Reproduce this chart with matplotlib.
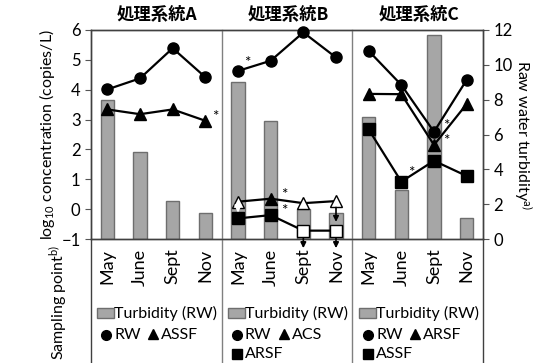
import matplotlib
matplotlib.use("Agg")
import matplotlib.pyplot as plt
from matplotlib.lines import Line2D
from matplotlib.patches import Rectangle

plt.rcParams['font.family'] = ['Lato', 'DejaVu Sans']
plt.rcParams['mathtext.default'] = 'regular'

months = ["May", "June", "Sept", "Nov"]
titles = ["処理系統A", "処理系統B", "処理系統C"]

# raw water turbidity (NTU), right axis
turb_a = [8.0, 5.0, 2.2, 1.5]
turb_b = [9.0, 6.8, 1.7, 1.5]
turb_c = [7.0, 2.8, 11.7, 1.2]

# log10 concentrations
a_rw = [4.01, 4.38, 5.39, 4.42]
a_assf = [3.34, 3.18, 3.34, 2.96]
b_rw = [4.63, 4.97, 5.92, 5.08]
b_acs = [0.25, 0.35, 0.20, 0.27]
b_arsf = [-0.31, -0.20, -0.72, -0.72]
c_rw = [5.30, 4.16, 2.59, 4.33]
c_arsf = [3.86, 3.85, 2.15, 3.52]
c_assf = [2.67, 0.92, 1.62, 1.11]

# detected (filled) or below detection limit (open)
b_acs_det = [False, True, False, False]
b_arsf_det = [True, True, False, False]

W, H = 547, 363
fig = plt.figure(figsize=(W / 100, H / 100), dpi=100)


def fx(x):
    return x / W


def fy(y):
    return 1 - y / H


ax2 = fig.add_axes([fx(91), fy(239), fx(483) - fx(91), fy(30) - fy(239)])
ax = ax2.twinx()
ax.yaxis.tick_left()
ax.yaxis.set_label_position("left")
ax2.yaxis.tick_right()
ax2.yaxis.set_label_position("right")

bar_fc = "#a6a6a6"
bar_ec = "#6e6e6e"
for p, turb in enumerate([turb_a, turb_b, turb_c]):
    xs = [p * 4 + i for i in range(4)]
    ax2.bar(xs, turb, width=0.4, color=bar_fc, edgecolor=bar_ec, linewidth=1.0, zorder=1)

ms = 8
line_kw = dict(color="black", lw=1.6, zorder=3)


def series(p, vals, marker, filled=None):
    xs = [p * 4 + i for i in range(4)]
    ax.plot(xs, vals, **line_kw)
    if filled is None:
        filled = [True] * 4
    for x, v, f in zip(xs, vals, filled):
        ax.plot(x, v, marker=marker, ms=ms, mfc="black" if f else "white",
                mec="black", mew=1.0, zorder=4, clip_on=False)


series(0, a_rw, "o")
series(0, a_assf, "^")
series(1, b_rw, "o")
series(1, b_acs, "^", b_acs_det)
series(1, b_arsf, "s", b_arsf_det)
series(2, c_rw, "o")
series(2, c_arsf, "^")
series(2, c_assf, "s")

# arrows for values below detection limit
ax.annotate("", xy=(4, b_arsf[0] + 0.1), xytext=(4, b_acs[0] - 0.12),
            arrowprops=dict(arrowstyle="-|>", color="white", lw=1.6, mutation_scale=9), zorder=6)
ax.annotate("", xy=(7, b_arsf[3] + 0.2), xytext=(7, b_acs[3] - 0.12),
            arrowprops=dict(arrowstyle="-|>", color="black", lw=1.2, mutation_scale=8), zorder=6)
for x in (6, 7):
    ax.annotate("", xy=(x, -1.4), xytext=(x, b_arsf[x - 4] - 0.15),
                arrowprops=dict(arrowstyle="-|>", color="black", lw=1.2, mutation_scale=8),
                zorder=6, annotation_clip=False)

# significance marks
stars = [(3, a_assf[3], 7, 3), (4, b_rw[0], 7, 6), (5, b_acs[1], 10, 3),
         (5, b_arsf[1], 10, 3), (9, c_assf[1], 7, 6), (10, c_rw[2], 9, 4),
         (10, c_arsf[2], 9, 3)]
for x, v, dx, dy in stars:
    ax.annotate("*", (x, v), xytext=(dx, dy), textcoords="offset points",
                fontsize=11, ha="center", va="center", zorder=6)

ax.set_xlim(-0.5, 11.5)
ax.set_ylim(-1, 6)
ax2.set_ylim(0, 12)
ax.set_yticks(range(-1, 7))
ax2.set_yticks(range(0, 13, 2))
ax.set_zorder(ax2.get_zorder() + 1)
ax.patch.set_visible(False)

ax2.set_xticks(range(12))
ax2.set_xticklabels(months * 3, rotation=90, fontsize=13)
ax2.tick_params(axis="x", length=0, pad=7)
ax.tick_params(axis="x", length=0, labelbottom=False)
ax.tick_params(axis="y", labelsize=12, length=4, color="#555555")
ax2.tick_params(axis="y", labelsize=12, length=4, color="#555555")

for a in (ax, ax2):
    for s in a.spines.values():
        s.set_color("#404040")
        s.set_linewidth(1.0)

# panel separators, running down through the label area
for x in (-0.5, 11.5):
    ax.axvline(x, ymin=-0.6, ymax=0, color="#404040", lw=1.0, clip_on=False)
for x in (3.5, 7.5):
    ax.axvline(x, ymin=-0.6, ymax=1, color="#808080", lw=1.0, clip_on=False)

ax.set_ylabel(r"log$_{10}$ concentration (copies/L)", fontsize=11.5, labelpad=3)
ax2.set_ylabel(r"Raw water turbidity$^{a)}$", fontsize=11.5, rotation=270, labelpad=15)

for p, t in enumerate(titles):
    fig.text(fx(157 + p * 131), fy(15), t, ha="center", va="center", fontsize=12.5,
             fontweight="bold", family=["Noto Sans CJK JP", "DejaVu Sans"])

fig.text(fx(58), fy(302), r"Sampling point$^{b)}$", rotation=90, ha="center",
         va="center", fontsize=11.5)

# legend blocks under each panel
leg_rows = [
    [("o", "RW"), ("^", "ASSF")],
    [("o", "RW"), ("^", "ACS")],
    [("o", "RW"), ("^", "ARSF")],
]
leg_third = [None, ("s", "ARSF"), ("s", "ASSF")]
fs_leg = 11.5
for p in range(3):
    x0 = 97 + p * 131
    fig.add_artist(Rectangle((fx(x0), fy(318)), fx(17), fy(308) - fy(318),
                             transform=fig.transFigure, facecolor=bar_fc,
                             edgecolor=bar_ec, lw=1.0))
    fig.text(fx(x0 + 17), fy(313), "Turbidity (RW)", ha="left", va="center", fontsize=fs_leg)
    (m1, t1), (m2, t2) = leg_rows[p]
    fig.add_artist(Line2D([fx(x0 + 9)], [fy(335)], marker=m1, ms=7, color="black",
                          transform=fig.transFigure))
    fig.text(fx(x0 + 17), fy(335), t1, ha="left", va="center", fontsize=fs_leg)
    fig.add_artist(Line2D([fx(x0 + 56)], [fy(334)], marker=m2, ms=7, color="black",
                          transform=fig.transFigure))
    fig.text(fx(x0 + 64), fy(335), t2, ha="left", va="center", fontsize=fs_leg)
    if leg_third[p]:
        m3, t3 = leg_third[p]
        fig.add_artist(Line2D([fx(x0 + 9)], [fy(354)], marker=m3, ms=7, color="black",
                              transform=fig.transFigure))
        fig.text(fx(x0 + 17), fy(354), t3, ha="left", va="center", fontsize=fs_leg)

fig.savefig("out.png", dpi=100)
